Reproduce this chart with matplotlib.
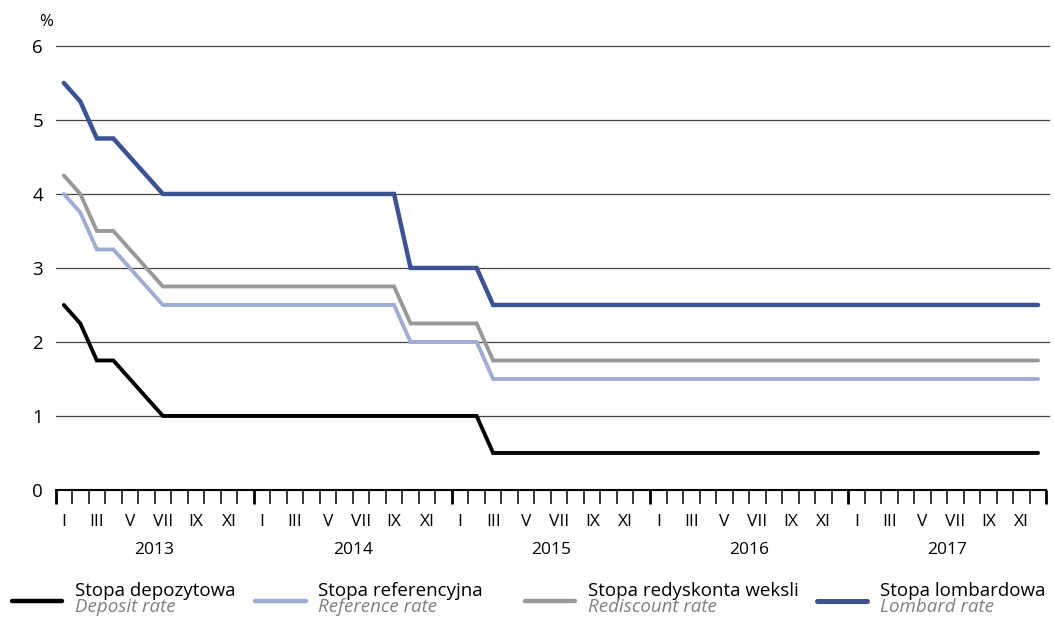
import matplotlib.pyplot as plt
import numpy as np
from matplotlib.lines import Line2D
from matplotlib.transforms import blended_transform_factory

plt.rcParams["font.family"] = ["Open Sans", "DejaVu Sans"]

# monthly NBP rates, I 2013 .. XII 2017 (%)
years = [2013, 2014, 2015, 2016, 2017]
month_labels = ["I", "III", "V", "VII", "IX", "XI"]

deposit = [2.5, 2.25, 1.75, 1.75, 1.5, 1.25] + [1.0] * 20 + [0.5] * 34
reference = [4.0, 3.75, 3.25, 3.25, 3.0, 2.75] + [2.5] * 15 + [2.0] * 5 + [1.5] * 34
rediscount = [4.25, 4.0, 3.5, 3.5, 3.25, 3.0] + [2.75] * 15 + [2.25] * 5 + [1.75] * 34
lombard = [5.5, 5.25, 4.75, 4.75, 4.5, 4.25] + [4.0] * 15 + [3.0] * 5 + [2.5] * 34

series = [
    ("Stopa depozytowa", "Deposit rate", deposit, "#000000", 2.8),
    ("Stopa referencyjna", "Reference rate", reference, "#9fadd3", 2.8),
    ("Stopa redyskonta weksli", "Rediscount rate", rediscount, "#999999", 2.8),
    ("Stopa lombardowa", "Lombard rate", lombard, "#3c5293", 3.2),
]

fig = plt.figure(figsize=(10.54, 6.21), dpi=100)
ax = fig.add_axes([0.0527, 0.211, 0.940, 0.715])

x = np.arange(len(deposit))
for _, _, vals, color, lw in series:
    ax.plot(x, vals, color=color, linewidth=lw, solid_capstyle="round",
            solid_joinstyle="miter", zorder=3)

n = len(deposit)
ax.set_xlim(-0.5, n - 0.5)
ax.set_ylim(0, 6)
for y in range(1, 7):
    ax.axhline(y, xmax=1.003, color="#444444", linewidth=0.9, zorder=1, clip_on=False)

for s in ["top", "right", "left"]:
    ax.spines[s].set_visible(False)
ax.spines["bottom"].set_linewidth(1.5)

ax.set_yticks(range(0, 7))
ax.tick_params(axis="y", length=0, pad=9, labelsize=13.5)

year_edges = np.arange(0, n + 1, 12) - 0.5
month_edges = [e for e in np.arange(n + 1) - 0.5 if e not in year_edges]
ax.set_xticks(year_edges)
ax.set_xticks(month_edges, minor=True)
ax.set_xticklabels([])
ax.tick_params(axis="x", which="major", direction="out", length=10, width=2.0)
ax.tick_params(axis="x", which="minor", direction="out", length=10, width=1.1)

trans = blended_transform_factory(ax.transData, ax.transAxes)
for i, yr in enumerate(years):
    for j, lab in enumerate(month_labels):
        ax.text(i * 12 + j * 2, -0.073, lab, transform=trans, ha="center", va="center", fontsize=12.5)
    ax.text(i * 12 + 5.5, -0.135, str(yr), transform=trans, ha="center", va="center", fontsize=12.5)

fig.text(0.044, 0.965, "%", ha="center", va="center", fontsize=12)

# legend
handle_x = [0.011, 0.242, 0.498, 0.775]
for (pl, en, _, color, lw), hx in zip(series, handle_x):
    fig.add_artist(Line2D([hx, hx + 0.048], [0.033, 0.033], color=color, linewidth=lw + 0.4,
                          solid_capstyle="round"))
    fig.text(hx + 0.06, 0.049, pl, ha="left", va="center", fontsize=13.5)
    fig.text(hx + 0.06, 0.022, en, ha="left", va="center", fontsize=13.5, style="italic",
             color="#808080")

fig.savefig("out.png", dpi=100)
